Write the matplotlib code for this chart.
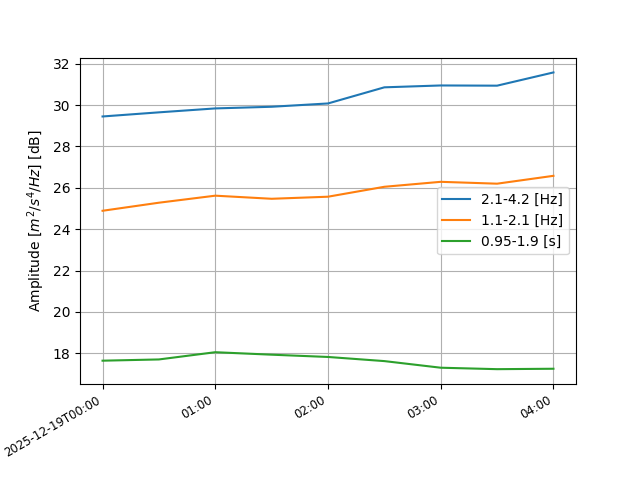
import numpy as np
import pandas as pd
import matplotlib
matplotlib.use("Agg")
import matplotlib.pyplot as plt

times = pd.date_range("2025-12-19 00:00", periods=9, freq="30min")

band_hi = [29.45, 29.65, 29.84, 29.92, 30.08, 30.86, 30.95, 30.94, 31.58]
band_mid = [24.89, 25.28, 25.62, 25.47, 25.57, 26.05, 26.29, 26.2, 26.58]
band_per = [17.64, 17.7, 18.05, 17.93, 17.82, 17.62, 17.3, 17.23, 17.25]

labels = ["2.1-4.2 [Hz]", "1.1-2.1 [Hz]", "0.95-1.9 [s]"]

tick_times = pd.date_range("2025-12-19 00:00", periods=5, freq="1h")
tick_labels = ["2025-12-19T00:00", "01:00", "02:00", "03:00", "04:00"]

fig, ax = plt.subplots(figsize=(6.4, 4.8), dpi=100)
ax.plot(times, band_hi, label=labels[0])
ax.plot(times, band_mid, label=labels[1])
ax.plot(times, band_per, label=labels[2])

ax.set_xticks(tick_times)
ax.set_xticklabels(tick_labels, fontsize="small")
ax.set_ylabel("Amplitude [$m^2/s^4/Hz$] [dB]")
ax.grid(True)
ax.legend()
fig.autofmt_xdate()

fig.savefig("out.png")
